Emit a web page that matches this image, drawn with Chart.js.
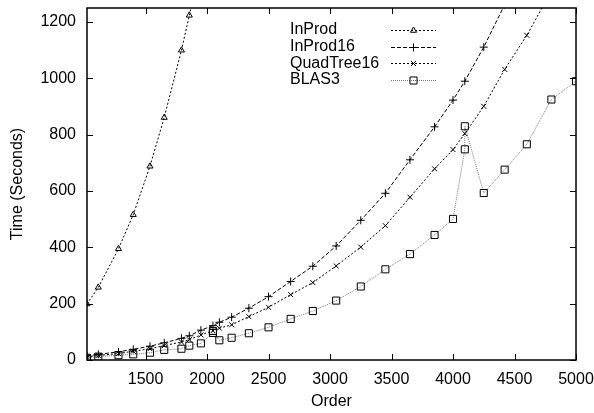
<!DOCTYPE html>
<html><head><meta charset="utf-8">
<script src="https://cdn.jsdelivr.net/npm/chart.js@4/dist/chart.umd.min.js"></script>
<style>html,body{margin:0;padding:0;background:#fff;overflow:hidden}</style>
</head><body>
<canvas id="c" width="594" height="413" style="display:block;width:594px;height:413px"></canvas>
<script>
// ---- data ----
const xTickLabels = [1500, 2000, 2500, 3000, 3500, 4000, 4500, 5000];
const yTickLabels = [0, 200, 400, 600, 800, 1000, 1200];
const seriesNames = ['InProd', 'InProd16', 'QuadTree16', 'BLAS3'];

const inprodOrders = [1024, 1116, 1280, 1400, 1536, 1652, 1792, 1856, 1920];
const inprodTimes  = [199, 258, 395, 516, 688, 861, 1100, 1224, 1350];

const inprod16Orders = [1024, 1116, 1280, 1400, 1536, 1652, 1792, 1856, 1950, 2048, 2100, 2200, 2340, 2500, 2680, 2860, 3050, 3250, 3450, 3650, 3850, 4000, 4096, 4250, 4420];
const inprod16Times  = [15, 20, 29, 38, 49, 61, 77, 86, 106, 122, 134, 152, 184, 225, 279, 333, 405, 496, 592, 711, 828, 923, 990, 1111, 1262];

const quadOrders = [1024, 1116, 1280, 1400, 1536, 1652, 1792, 1856, 1950, 2048, 2100, 2200, 2340, 2500, 2680, 2860, 3050, 3250, 3450, 3650, 3850, 4000, 4096, 4250, 4420, 4600, 4800];
const quadTimes  = [12, 16, 23, 31, 40, 51, 64, 72, 89, 104, 113, 125, 154, 187, 232, 275, 334, 401, 477, 578, 679, 747, 804, 901, 1032, 1153, 1310];

const blasOrders = [1024, 1116, 1280, 1400, 1536, 1652, 1792, 1856, 1950, 2048, 2048, 2100, 2200, 2340, 2500, 2680, 2860, 3050, 3250, 3450, 3650, 3850, 4000, 4096, 4096, 4250, 4420, 4600, 4800, 5000];
const blasTimes  = [8, 12, 17, 20, 26, 36, 40, 51, 59, 96, 103, 70, 79, 95, 116, 146, 174, 211, 261, 322, 376, 444, 501, 748, 830, 593, 676, 766, 925, 990];

// ---- chart ----
const FONT = {family: '"Liberation Sans", Arial, Helvetica, sans-serif', size: 16};
const pts = (xs, ys) => xs.map((x, i) => ({x: x, y: ys[i]}));

function mk(label, data, style, pr, dash, color) {
  return {
    label: label, data: data, showLine: true, fill: false,
    borderColor: color, borderWidth: 1, borderDash: dash,
    pointStyle: style, pointRadius: pr, pointHoverRadius: pr,
    pointBorderColor: '#000', pointBackgroundColor: 'rgba(0,0,0,0)', pointBorderWidth: 1,
    tension: 0
  };
}

const datasets = [
  mk(seriesNames[0], pts(inprodOrders, inprodTimes), 'triangle', 3.5, [2, 2], '#000'),
  mk(seriesNames[1], pts(inprod16Orders, inprod16Times), 'cross', 4, [4, 2], '#000'),
  mk(seriesNames[2], pts(quadOrders, quadTimes), 'crossRot', 3.5, [2, 2], '#000'),
  mk(seriesNames[3], pts(blasOrders, blasTimes), 'rect', 5, [1, 1], '#777')
];

const framePlugin = {
  id: 'frame',
  afterDatasetsDraw(chart) {
    const ctx = chart.ctx, a = chart.chartArea;
    const xs = chart.scales.x, ys = chart.scales.y;
    ctx.save();
    ctx.strokeStyle = '#000';
    ctx.lineWidth = 1;
    ctx.setLineDash([]);
    ctx.beginPath();
    const TL = 6;
    xTickLabels.forEach(v => {
      const p = Math.round(xs.getPixelForValue(v)) + 0.5;
      ctx.moveTo(p, a.bottom); ctx.lineTo(p, a.bottom - TL);
      ctx.moveTo(p, a.top); ctx.lineTo(p, a.top + TL);
    });
    yTickLabels.forEach(v => {
      const p = Math.round(ys.getPixelForValue(v)) + 0.5;
      ctx.moveTo(a.left, p); ctx.lineTo(a.left + TL, p);
      ctx.moveTo(a.right, p); ctx.lineTo(a.right - TL, p);
    });
    ctx.stroke();
    ctx.lineWidth = 1.5;
    ctx.strokeRect(a.left, a.top, a.right - a.left, a.bottom - a.top);
    // legend
    ctx.font = FONT.size + 'px ' + FONT.family;
    ctx.textBaseline = 'middle';
    ctx.textAlign = 'left';
    chart.data.datasets.forEach((ds, i) => {
      const y = 30 + i * 16.67;
      ctx.fillStyle = '#000';
      ctx.fillText(ds.label, 290, y);
      ctx.strokeStyle = ds.borderColor;
      ctx.lineWidth = 1;
      ctx.setLineDash(ds.borderDash);
      ctx.beginPath();
      ctx.moveTo(391, Math.round(y) + 0.5); ctx.lineTo(436, Math.round(y) + 0.5);
      ctx.stroke();
      ctx.setLineDash([]);
      ctx.strokeStyle = '#000';
      ctx.fillStyle = 'rgba(0,0,0,0)';
      Chart.helpers.drawPoint(ctx, {pointStyle: ds.pointStyle, radius: ds.pointRadius, rotation: 0, borderWidth: 1}, 413.5, Math.round(y) + 0.5);
    });
    ctx.restore();
  }
};

new Chart(document.getElementById('c'), {
  type: 'scatter',
  data: {datasets: datasets},
  options: {
    responsive: false, animation: false, devicePixelRatio: 1,
    layout: {padding: {top: 8, right: 18, left: 0, bottom: 0}},
    plugins: {legend: {display: false}, tooltip: {enabled: false}},
    scales: {
      x: {
        type: 'linear', min: 1024, max: 5000,
        afterBuildTicks: s => { s.ticks = xTickLabels.map(v => ({value: v})); },
        afterFit: s => { s.height = 53; s.paddingLeft = 0; s.paddingRight = 0; s.paddingTop = 0; s.paddingBottom = 0; },
        ticks: {font: FONT, color: '#000', padding: 10, maxRotation: 0, autoSkip: false, callback: v => String(v)},
        grid: {display: false, drawTicks: false},
        border: {display: false},
        title: {display: true, text: 'Order', font: FONT, color: '#000', padding: {top: 0, bottom: 2}}
      },
      y: {
        type: 'linear', min: 0, max: 1250,
        afterBuildTicks: s => { s.ticks = yTickLabels.map(v => ({value: v})); },
        afterFit: s => { s.width = 87; s.paddingLeft = 0; s.paddingRight = 0; s.paddingTop = 0; s.paddingBottom = 0; },
        ticks: {font: FONT, color: '#000', padding: 11, autoSkip: false, callback: v => String(v)},
        grid: {display: false, drawTicks: false},
        border: {display: false},
        title: {display: true, text: 'Time (Seconds)', font: FONT, color: '#000', padding: {top: 8, bottom: 0}}
      }
    }
  },
  plugins: [framePlugin]
});
</script>
</body></html>
